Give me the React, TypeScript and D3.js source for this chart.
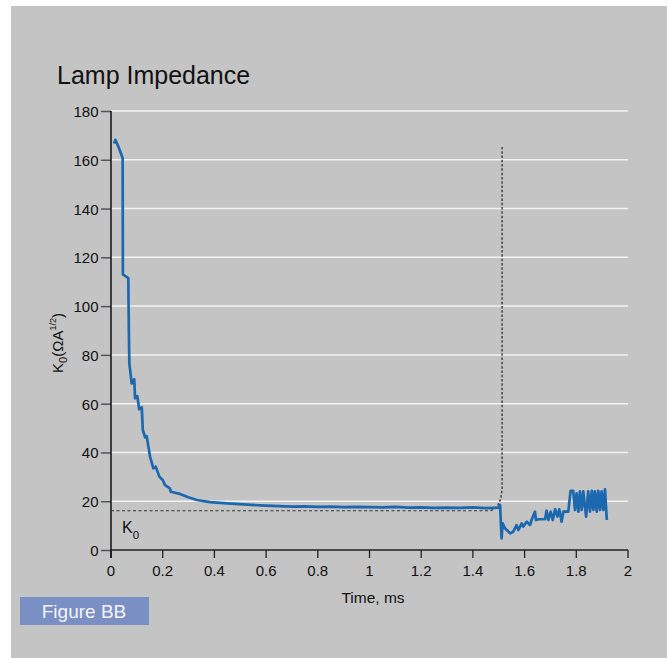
import React from "react";
import * as d3 from "d3";

const times: number[] = [
  0.012, 0.017, 0.03, 0.045, 0.046, 0.067, 0.069, 0.071, 0.08, 0.09, 0.093, 0.102, 0.109, 0.119, 0.123,
  0.132, 0.138, 0.151, 0.164, 0.173, 0.187, 0.2, 0.209, 0.228, 0.231, 0.267, 0.299, 0.332, 0.383,
  0.448, 0.512, 0.576, 0.6, 0.65, 0.7, 0.75, 0.8, 0.85, 0.9, 0.95, 1.0, 1.05, 1.1, 1.15, 1.2, 1.25,
  1.3, 1.35, 1.4, 1.45, 1.48, 1.5, 1.505, 1.511, 1.515, 1.524, 1.531, 1.544, 1.556, 1.569, 1.576,
  1.589, 1.595, 1.608, 1.621, 1.627, 1.64, 1.644, 1.653, 1.679, 1.685, 1.692, 1.701, 1.709, 1.718,
  1.727, 1.734, 1.743, 1.75, 1.769, 1.778, 1.788, 1.795, 1.801, 1.808, 1.814, 1.821, 1.827, 1.838,
  1.846, 1.853, 1.86, 1.866, 1.872, 1.879, 1.885, 1.892, 1.898, 1.905, 1.911, 1.918,
];
const impedance: number[] = [
  166.7, 168.2, 165.0, 160.7, 113.0, 111.5, 90.0, 76.5, 68.3, 70.0, 62.2, 63.1, 57.7, 58.5, 49.2,
  46.2, 46.7, 38.3, 33.5, 34.2, 30.1, 28.7, 26.6, 25.3, 23.9, 23.0, 21.6, 20.5, 19.6,
  19.1, 18.7, 18.3, 18.2, 18.0, 17.8, 17.9, 17.7, 17.8, 17.6, 17.7, 17.6, 17.5, 17.7, 17.4, 17.5, 17.3,
  17.4, 17.3, 17.5, 17.2, 17.3, 17.4, 18.5, 4.8, 10.9, 8.9, 8.2, 6.8, 7.5, 10.2, 8.2,
  10.9, 9.6, 11.6, 10.2, 12.3, 15.7, 12.3, 12.6, 12.6, 16.1, 12.3, 15.7, 12.3, 16.7,
  13.7, 16.7, 11.6, 15.7, 15.7, 24.3, 24.3, 16.4, 23.2, 15.7, 24.0, 16.4, 24.0, 13.7,
  24.0, 15.7, 24.3, 16.4, 24.0, 15.7, 24.3, 16.4, 24.0, 16.4, 24.9, 12.3,
];

const k0Value = 16.1;
const k0LineEnd = 1.47;
const markerTimes: number[] = [1.47, 1.495, 1.508, 1.513, 1.513];
const markerValues: number[] = [16.1, 18.0, 21.0, 25.0, 165.2];

const yTicks: number[] = [0, 20, 40, 60, 80, 100, 120, 140, 160, 180];
const xTicks: number[] = [0, 0.2, 0.4, 0.6, 0.8, 1, 1.2, 1.4, 1.6, 1.8, 2];

export default function App() {
  const x = d3.scaleLinear().domain([0, 2]).range([111, 628]);
  const y = d3.scaleLinear().domain([0, 180]).range([550, 111]);

  const pts: [number, number][] = times.map((t, i) => [t, impedance[i]]);
  const line = d3
    .line<[number, number]>()
    .x((d) => x(d[0]))
    .y((d) => y(d[1]));
  const marker: [number, number][] = markerTimes.map((t, i) => [t, markerValues[i]]);

  const font = "'Liberation Sans', Arial, sans-serif";

  return (
    <svg
      width={672}
      height={658}
      style={{ position: "absolute", left: 0, top: 0, fontFamily: font }}
    >
      <rect x={0} y={0} width={672} height={658} fill="#ffffff" />
      <rect x={11} y={6} width={656} height={652} fill="#c4c4c4" />

      <text x={57} y={84} fontSize={25} fill="#111">
        Lamp Impedance
      </text>

      {/* gridlines */}
      {yTicks
        .filter((v) => v > 0)
        .map((v) => (
          <line key={"g" + v} x1={x(0)} x2={x(2)} y1={y(v)} y2={y(v)} stroke="#f2f2f2" strokeWidth={1.5} />
        ))}

      {/* y ticks */}
      {yTicks.map((v) => (
        <g key={"yt" + v}>
          <line x1={101} x2={x(0)} y1={y(v) + 0.5} y2={y(v) + 0.5} stroke="#555" strokeWidth={1.5} />
          <text x={98.5} y={y(v) + 6} fontSize={15} textAnchor="end" fill="#111">
            {v}
          </text>
        </g>
      ))}

      {/* x axis */}
      <line x1={x(0)} x2={x(2)} y1={y(0)} y2={y(0)} stroke="#222" strokeWidth={1.3} />
      {xTicks.map((t) => (
        <g key={"xt" + t}>
          <line x1={x(t)} x2={x(t)} y1={y(0)} y2={y(0) + 8} stroke="#222" strokeWidth={1.3} />
          <text x={x(t)} y={576} fontSize={15} textAnchor="middle" fill="#111">
            {String(t)}
          </text>
        </g>
      ))}
      <line x1={x(0)} x2={x(0)} y1={y(180)} y2={y(0) + 8} stroke="#111" strokeWidth={1.5} />

      <text x={373} y={603} fontSize={15.5} textAnchor="middle" fill="#111">
        Time, ms
      </text>

      {/* y label */}
      <text transform="translate(63,343) rotate(-90)" fontSize={15} textAnchor="middle" fill="#111">
        K<tspan fontSize={11} dy={4}>0</tspan>
        <tspan dy={-4}>(ΩA</tspan>
        <tspan fontSize={9} dy={-7}>1/2</tspan>
        <tspan dy={7}>)</tspan>
      </text>

      {/* K0 dashed line */}
      <line
        x1={x(0)}
        x2={x(k0LineEnd)}
        y1={y(k0Value)}
        y2={y(k0Value)}
        stroke="#333"
        strokeWidth={1.2}
        strokeDasharray="3,2.5"
      />
      <path d={line(marker) || ""} fill="none" stroke="#444" strokeWidth={1.5} strokeDasharray="2.5,1.8" />

      <text x={122} y={532.5} fontSize={16} fill="#111">
        K<tspan fontSize={11.5} dy={6.5}>0</tspan>
      </text>

      {/* data */}
      <path d={line(pts) || ""} fill="none" stroke="#1c68b0" strokeWidth={2.7} strokeLinejoin="round" />

      {/* Figure label */}
      <rect x={20} y={597} width={129} height={28} fill="#7a8fc3" />
      <text x={84} y={617.5} fontSize={19} textAnchor="middle" fill="#f4f4f8">
        Figure BB
      </text>
    </svg>
  );
}
